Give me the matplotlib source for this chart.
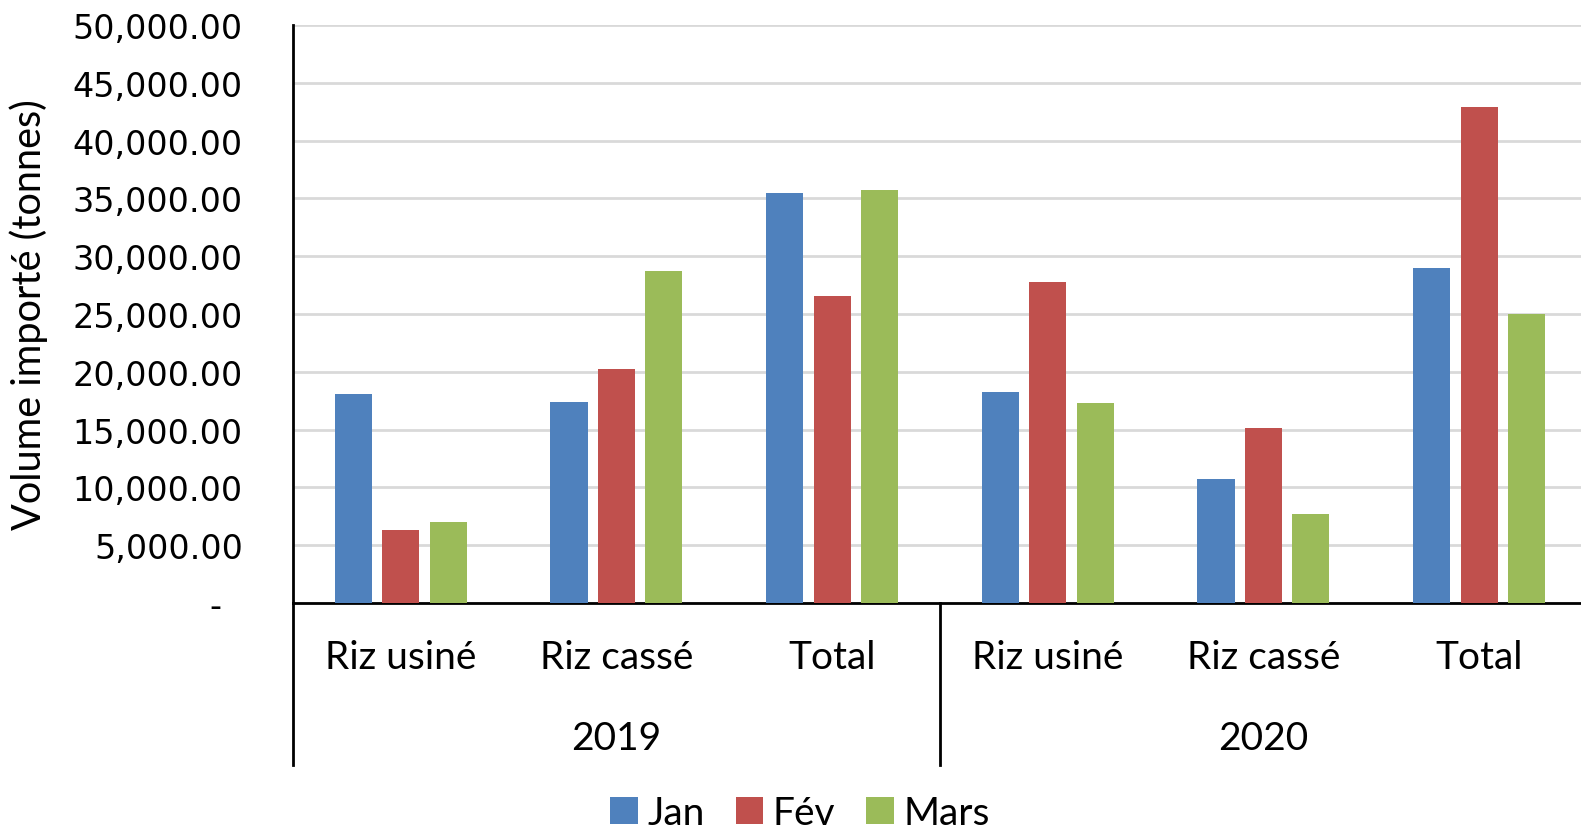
import numpy as np
import matplotlib.pyplot as plt
from matplotlib.ticker import FuncFormatter
import matplotlib.transforms as mtransforms

# categories and years
products = ["Riz usiné", "Riz cassé", "Total", "Riz usiné", "Riz cassé", "Total"]
years = ["2019", "2020"]
months = ["Jan", "Fév", "Mars"]

# values in tonnes
jan = [18050, 17400, 35450, 18240, 10730, 28970]
fev = [6280, 20250, 26530, 27750, 15100, 42950]
mars = [6980, 28710, 35690, 17280, 7680, 24960]

colors = ["#4F81BD", "#C0504D", "#9BBB59"]

fig = plt.figure(figsize=(15.81, 8.29), dpi=100)
ax = fig.add_axes([0.1853, 0.2714, 0.8185, 0.6972])

x = np.arange(len(products))
width = 0.172
step = 0.22
for i, (vals, lab) in enumerate(zip([jan, fev, mars], months)):
    ax.bar(x + (i - 1) * step, vals, width, color=colors[i], label=lab, zorder=3)

ax.set_xlim(-0.5, len(products) - 0.5)
ax.set_ylim(0, 50000)
ax.set_yticks(np.arange(0, 50001, 5000))

def fmt(v, pos):
    if v == 0:
        return "-  "
    return f"{v:,.2f}"

ax.yaxis.set_major_formatter(FuncFormatter(fmt))
ax.tick_params(axis="y", length=0, pad=36, labelsize=24)
ax.tick_params(axis="x", length=0, labelbottom=False)
ax.grid(axis="y", color="#d9d9d9", linewidth=2, zorder=0)

for s in ["top", "right"]:
    ax.spines[s].set_visible(False)
ax.spines["left"].set_linewidth(2)
ax.spines["bottom"].set_linewidth(2)
ax.spines["left"].set_color("black")
ax.spines["bottom"].set_color("black")

cat_font = "Lato"
fs = 28
trans = mtransforms.blended_transform_factory(ax.transData, ax.transAxes)

# category labels
for xi, p in zip(x, products):
    ax.text(xi, -0.0934, p, transform=trans, ha="center", va="center",
            fontsize=fs, family=cat_font)

# year labels
for j, yr in enumerate(years):
    ax.text(j * 3 + 1, -0.2336, yr, transform=trans, ha="center", va="center",
            fontsize=fs, family=cat_font)

# separator lines below the axis
for xs in [-0.5, 2.5]:
    ax.plot([xs, xs], [0, -0.28], transform=trans, color="black",
            linewidth=2, clip_on=False)

ax.set_ylabel("Volume importé (tonnes)", fontsize=28.5, family=cat_font)
ax.yaxis.set_label_coords(-0.189, 0.5)

fig.legend(loc="center", bbox_to_anchor=(0.506, 0.018), ncol=3, frameon=False,
           prop={"family": cat_font, "size": fs}, handlelength=0.7,
           handleheight=0.7, handletextpad=0.25, columnspacing=0.8)

fig.savefig("out.png", dpi=100)
